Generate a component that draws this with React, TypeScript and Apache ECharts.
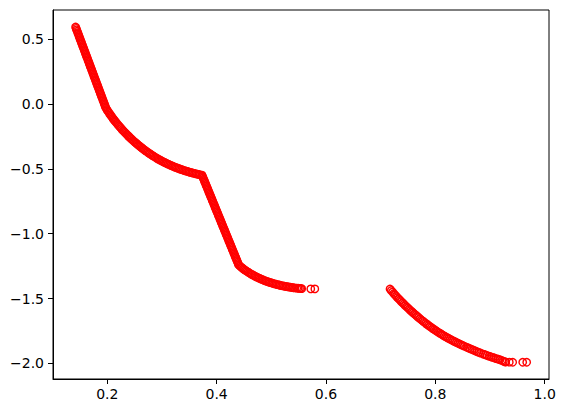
import React, { useEffect, useRef } from "react";
import * as echarts from "echarts";

// Upper steep branch (x, y)
const branchA: [number, number][] = [
  [0.1420, 0.595], [0.1430, 0.584], [0.1440, 0.573], [0.1449, 0.562], [0.1459, 0.551], [0.1469, 0.540],
  [0.1479, 0.529], [0.1488, 0.518], [0.1498, 0.507], [0.1508, 0.496], [0.1518, 0.485], [0.1527, 0.474],
  [0.1537, 0.463], [0.1547, 0.452], [0.1557, 0.441], [0.1566, 0.430], [0.1576, 0.419], [0.1586, 0.408],
  [0.1596, 0.397], [0.1605, 0.386], [0.1615, 0.375], [0.1625, 0.364], [0.1635, 0.353], [0.1644, 0.342],
  [0.1654, 0.331], [0.1664, 0.320], [0.1674, 0.309], [0.1683, 0.298], [0.1693, 0.287], [0.1703, 0.276],
  [0.1713, 0.265], [0.1722, 0.254], [0.1732, 0.243], [0.1742, 0.232], [0.1752, 0.221], [0.1761, 0.210],
  [0.1771, 0.199], [0.1781, 0.188], [0.1791, 0.177], [0.1800, 0.166], [0.1810, 0.155], [0.1820, 0.144],
  [0.1830, 0.133], [0.1839, 0.122], [0.1849, 0.111], [0.1859, 0.100], [0.1869, 0.089], [0.1878, 0.078],
  [0.1888, 0.067], [0.1898, 0.056], [0.1908, 0.045], [0.1917, 0.034], [0.1927, 0.023], [0.1937, 0.012],
  [0.1947, 0.001], [0.1956, -0.010], [0.1966, -0.021], [0.1976, -0.032],
];

// Bent branch between the two kinks
const branchB: [number, number][] = [
  [0.1992, -0.0426], [0.2008, -0.0530], [0.2024, -0.0632], [0.2040, -0.0732], [0.2056, -0.0830], [0.2072, -0.0926],
  [0.2088, -0.1019], [0.2104, -0.1111], [0.2120, -0.1200], [0.2136, -0.1288], [0.2152, -0.1373], [0.2172, -0.1476],
  [0.2192, -0.1577], [0.2212, -0.1677], [0.2232, -0.1774], [0.2252, -0.1870], [0.2272, -0.1965], [0.2292, -0.2057],
  [0.2312, -0.2148], [0.2332, -0.2237], [0.2352, -0.2325], [0.2372, -0.2410], [0.2392, -0.2494], [0.2412, -0.2577],
  [0.2432, -0.2657], [0.2452, -0.2736], [0.2476, -0.2829],
  [0.2498, -0.2912], [0.2520, -0.2993], [0.2542, -0.3073], [0.2564, -0.3151], [0.2586, -0.3228], [0.2608, -0.3304],
  [0.2630, -0.3377], [0.2652, -0.3450], [0.2674, -0.3520], [0.2696, -0.3590], [0.2718, -0.3657], [0.2740, -0.3724],
  [0.2762, -0.3788], [0.2781, -0.3843],
  [0.2805, -0.3911], [0.2829, -0.3977], [0.2853, -0.4041], [0.2877, -0.4104], [0.2901, -0.4165], [0.2925, -0.4225],
  [0.2949, -0.4283], [0.2973, -0.4339], [0.2997, -0.4394], [0.3021, -0.4447], [0.3045, -0.4498], [0.3069, -0.4548],
  [0.3086, -0.4583],
  [0.3111, -0.4632], [0.3136, -0.4681], [0.3161, -0.4727], [0.3186, -0.4773], [0.3211, -0.4818], [0.3236, -0.4861],
  [0.3261, -0.4903], [0.3286, -0.4944], [0.3311, -0.4983], [0.3336, -0.5021], [0.3361, -0.5058], [0.3390, -0.5100],
  [0.3416, -0.5136], [0.3442, -0.5171], [0.3468, -0.5204], [0.3494, -0.5237], [0.3520, -0.5269], [0.3546, -0.5299],
  [0.3572, -0.5329], [0.3598, -0.5357], [0.3624, -0.5384], [0.3650, -0.5410], [0.3676, -0.5435], [0.3702, -0.5460],
  [0.3732, -0.5480],
];

// Steep middle branch
const branchC: [number, number][] = [
  [0.3742, -0.5585], [0.3752, -0.5690], [0.3763, -0.5795], [0.3773, -0.5900], [0.3783, -0.6005], [0.3793, -0.6110],
  [0.3803, -0.6215], [0.3813, -0.6320], [0.3824, -0.6425], [0.3834, -0.6530], [0.3844, -0.6635], [0.3854, -0.6740],
  [0.3864, -0.6845], [0.3874, -0.6950], [0.3885, -0.7055], [0.3895, -0.7160], [0.3905, -0.7265], [0.3915, -0.7370],
  [0.3925, -0.7475], [0.3935, -0.7580], [0.3946, -0.7685], [0.3956, -0.7790], [0.3966, -0.7895], [0.3976, -0.8000],
  [0.3986, -0.8105], [0.3996, -0.8210], [0.4007, -0.8315], [0.4017, -0.8420], [0.4027, -0.8525], [0.4037, -0.8630],
  [0.4047, -0.8735], [0.4057, -0.8840], [0.4068, -0.8945], [0.4078, -0.9050], [0.4088, -0.9155], [0.4098, -0.9260],
  [0.4108, -0.9365], [0.4118, -0.9470], [0.4129, -0.9575], [0.4139, -0.9680], [0.4149, -0.9785], [0.4159, -0.9890],
  [0.4169, -0.9995], [0.4179, -1.0100], [0.4190, -1.0205], [0.4200, -1.0310], [0.4210, -1.0415], [0.4220, -1.0520],
  [0.4230, -1.0625], [0.4241, -1.0730], [0.4251, -1.0835], [0.4261, -1.0940], [0.4271, -1.1045], [0.4281, -1.1150],
  [0.4291, -1.1255], [0.4302, -1.1360], [0.4312, -1.1465], [0.4322, -1.1570], [0.4332, -1.1675], [0.4342, -1.1780],
  [0.4352, -1.1885], [0.4363, -1.1990], [0.4373, -1.2095], [0.4383, -1.2200], [0.4393, -1.2305], [0.4403, -1.2410],
];

// Lower tail of the first piece
const branchD: [number, number][] = [
  [0.4424, -1.2490], [0.4445, -1.2567], [0.4466, -1.2640], [0.4487, -1.2710], [0.4508, -1.2776], [0.4529, -1.2839],
  [0.4550, -1.2899],
  [0.4575, -1.2967], [0.4600, -1.3032], [0.4625, -1.3096], [0.4650, -1.3157], [0.4675, -1.3216], [0.4700, -1.3273],
  [0.4725, -1.3327], [0.4750, -1.3380], [0.4775, -1.3430], [0.4800, -1.3478], [0.4825, -1.3524], [0.4853, -1.3573],
  [0.4879, -1.3616], [0.4905, -1.3658], [0.4931, -1.3698], [0.4957, -1.3737], [0.4983, -1.3773], [0.5009, -1.3808],
  [0.5035, -1.3842], [0.5061, -1.3874], [0.5087, -1.3904], [0.5113, -1.3932], [0.5139, -1.3959], [0.5159, -1.3978],
  [0.5186, -1.4003], [0.5213, -1.4027], [0.5240, -1.4050], [0.5267, -1.4072], [0.5294, -1.4093], [0.5321, -1.4113],
  [0.5348, -1.4131], [0.5375, -1.4149], [0.5402, -1.4165], [0.5429, -1.4181], [0.5464, -1.4199],
  [0.5490, -1.4211], [0.5516, -1.4222], [0.5540, -1.4232], [0.5556, -1.4238],
  [0.5722, -1.4260], [0.5796, -1.4260],
];

// Second, separate piece
const branchE: [number, number][] = [
  [0.7171, -1.4267],
  [0.7194, -1.4385], [0.7217, -1.4501], [0.7240, -1.4614], [0.7263, -1.4725], [0.7286, -1.4833], [0.7309, -1.4938],
  [0.7332, -1.5040], [0.7354, -1.5136],
  [0.7378, -1.5239], [0.7402, -1.5340], [0.7426, -1.5440], [0.7450, -1.5539], [0.7474, -1.5636], [0.7498, -1.5732],
  [0.7522, -1.5828], [0.7546, -1.5921], [0.7570, -1.6014], [0.7594, -1.6105], [0.7618, -1.6195], [0.7642, -1.6284],
  [0.7666, -1.6371], [0.7690, -1.6457], [0.7720, -1.6563],
  [0.7746, -1.6653], [0.7772, -1.6742], [0.7798, -1.6829], [0.7824, -1.6915], [0.7850, -1.6999], [0.7876, -1.7081],
  [0.7902, -1.7162], [0.7928, -1.7241], [0.7954, -1.7319], [0.7980, -1.7395], [0.8006, -1.7470], [0.8025, -1.7524],
  [0.8052, -1.7599], [0.8079, -1.7672], [0.8106, -1.7743], [0.8133, -1.7813], [0.8160, -1.7882], [0.8187, -1.7948],
  [0.8214, -1.8013], [0.8241, -1.8076], [0.8269, -1.8140],
  [0.8298, -1.8205], [0.8327, -1.8268], [0.8356, -1.8331], [0.8385, -1.8392], [0.8414, -1.8452], [0.8443, -1.8512],
  [0.8472, -1.8570], [0.8501, -1.8627], [0.8530, -1.8682], [0.8573, -1.8763],
  [0.8605, -1.8822], [0.8637, -1.8880], [0.8669, -1.8937], [0.8701, -1.8993], [0.8733, -1.9049], [0.8765, -1.9103],
  [0.8797, -1.9157], [0.8829, -1.9210], [0.8877, -1.9287],
  [0.8911, -1.9341], [0.8945, -1.9394], [0.8979, -1.9445], [0.9013, -1.9496], [0.9047, -1.9545], [0.9081, -1.9593],
  [0.9115, -1.9640], [0.9149, -1.9686], [0.9182, -1.9729],
  [0.9215, -1.9780], [0.9245, -1.9840], [0.9274, -1.9885], [0.9287, -1.9900], [0.9353, -1.9910], [0.9415, -1.9920],
  [0.9598, -1.9920], [0.9671, -1.9920],
];

const xTicks = [0.2, 0.4, 0.6, 0.8, 1.0];
const yTicks = [-2.0, -1.5, -1.0, -0.5, 0.0, 0.5];
const xRange = [0.1007, 1.0079];
const yRange = [-2.121, 0.726];

export default function App() {
  const ref = useRef<HTMLDivElement>(null);
  useEffect(() => {
    if (!ref.current) return;
    const chart = echarts.init(ref.current, null, { renderer: "svg" });
    const fmt = (v: number) => (v < 0 ? "\u2212" : "") + Math.abs(v).toFixed(1);
    const data = [...branchA, ...branchB, ...branchC, ...branchD, ...branchE];
    chart.setOption({
      animation: false,
      backgroundColor: "#ffffff",
      grid: {
        left: 53, right: 16, top: 10, bottom: 34,
        show: true, borderColor: "#000000", borderWidth: 1, backgroundColor: "transparent",
      },
      xAxis: {
        type: "value",
        min: xRange[0], max: xRange[1],
        splitLine: { show: false },
        axisLine: { show: true, onZero: false, lineStyle: { color: "#000000", width: 1 } },
        axisTick: { show: true, inside: false, length: 5, lineStyle: { color: "#000000", width: 1 }, customValues: xTicks },
        axisLabel: {
          customValues: xTicks, formatter: fmt, color: "#000000",
          fontFamily: "DejaVu Sans", fontSize: 14, margin: 8,
        },
      },
      yAxis: {
        type: "value",
        min: yRange[0], max: yRange[1],
        splitLine: { show: false },
        axisLine: { show: true, onZero: false, lineStyle: { color: "#000000", width: 1 } },
        axisTick: { show: true, inside: false, length: 5, lineStyle: { color: "#000000", width: 1 }, customValues: yTicks },
        axisLabel: {
          customValues: yTicks, formatter: fmt, color: "#000000",
          fontFamily: "DejaVu Sans", fontSize: 14, margin: 9,
        },
      },
      series: [
        {
          type: "scatter",
          data,
          symbol: "circle",
          symbolSize: 7.4,
          silent: true,
          itemStyle: { color: "rgba(0,0,0,0)", borderColor: "#ff0000", borderWidth: 1.4, opacity: 1 },
          emphasis: { disabled: true },
        },
      ],
    });
    return () => chart.dispose();
  }, []);
  return (
    <div
      ref={ref}
      style={{ position: "fixed", left: 0, top: 0, width: 565, height: 413, background: "#ffffff" }}
    />
  );
}
